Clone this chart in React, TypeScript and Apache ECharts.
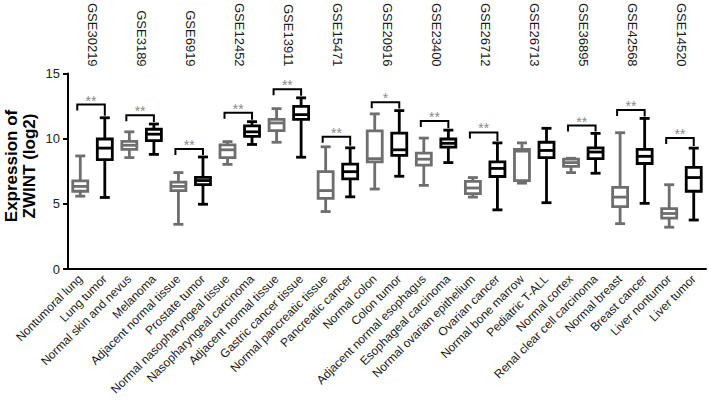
import React, { useEffect, useRef } from "react";
import * as echarts from "echarts";

const categories = [
  "Nontumoral lung", "Lung tumor",
  "Normal skin and nevus", "Melanoma",
  "Adjacent normal tissue", "Prostate tumor",
  "Normal nasopharyngeal tissue", "Nasopharyngeal carcinoma",
  "Adjacent normal tissue", "Gastric cancer tissue",
  "Normal pancreatic tissue", "Pancreatic cancer",
  "Normal colon", "Colon tumor",
  "Adjacent normal esophagus", "Esophageal carcinoma",
  "Normal ovarian epithelium", "Ovarian cancer",
  "Normal bone marrow", "Pediatric T-ALL",
  "Normal cortex", "Renal clear cell carcinoma",
  "Normal breast", "Breast cancer",
  "Liver nontumor", "Liver tumor",
];

const datasets = [
  "GSE30219", "GSE3189", "GSE6919", "GSE12452", "GSE13911", "GSE15471", "GSE20916",
  "GSE23400", "GSE26712", "GSE26713", "GSE36895", "GSE42568", "GSE14520",
];

// [min, Q1, median, Q3, max] per category
const boxValues: number[][] = [
  [5.59, 5.97, 6.34, 6.77, 8.68],
  [5.49, 8.4, 9.28, 9.98, 11.61],
  [8.55, 9.18, 9.5, 9.8, 10.53],
  [8.8, 9.85, 10.35, 10.73, 11.13],
  [3.43, 6.02, 6.34, 6.67, 7.4],
  [4.97, 6.47, 6.79, 7.04, 8.6],
  [8.03, 8.55, 9.15, 9.53, 9.78],
  [9.56, 10.18, 10.53, 10.99, 11.31],
  [9.73, 10.63, 11.21, 11.48, 12.31],
  [8.58, 11.48, 11.85, 12.49, 13.14],
  [4.41, 5.42, 6.02, 7.47, 9.38],
  [5.54, 6.92, 7.47, 8.05, 9.3],
  [6.14, 8.22, 8.47, 10.61, 11.91],
  [7.12, 8.73, 9.15, 10.43, 12.16],
  [6.42, 7.98, 8.43, 8.9, 10.05],
  [8.17, 9.35, 9.65, 9.98, 10.66],
  [5.52, 5.79, 6.22, 6.72, 7.02],
  [4.54, 7.1, 7.72, 8.22, 9.68],
  [6.59, 6.79, 9.05, 9.18, 9.68],
  [5.09, 8.55, 9.1, 9.73, 10.8],
  [7.4, 7.88, 8.17, 8.43, 8.5],
  [7.35, 8.47, 8.98, 9.3, 10.41],
  [3.48, 4.79, 5.52, 6.27, 10.46],
  [5.04, 8.1, 8.65, 9.18, 11.56],
  [3.21, 3.91, 4.26, 4.64, 6.47],
  [3.76, 5.97, 7.02, 7.8, 9.28],
];

// significance brackets: pair index, bracket height, label
const bracketPairs = [0, 1, 2, 3, 4, 5, 6, 7, 8, 10, 11, 12];
const bracketHeights = [12.62, 11.81, 9.22, 11.99, 13.79, 10.16, 12.81, 11.36, 10.48, 11.01, 12.21, 10.06];
const bracketLabels = ["**", "**", "**", "**", "**", "**", "*", "**", "**", "**", "**", "**"];

const yTicks = { min: 0, max: 15, interval: 5 };

const GRAY = "#6e6e6e";
const BLACK = "#000000";
const FONT = "'Liberation Sans', Arial, Helvetica, sans-serif";

export default function App() {
  const ref = useRef<HTMLDivElement>(null);

  useEffect(() => {
    if (!ref.current) return;
    const chart = echarts.init(ref.current, undefined, { renderer: "svg" });

    const boxData = boxValues.map((v, i) => [i, ...v]);
    const bracketData = bracketPairs.map((p, k) => [
      p * 2,
      bracketHeights[k],
      p * 2 + 1,
      boxValues[p * 2 + 1][4],
    ]);

    const boxRender = (params: any, api: any) => {
      const idx = api.value(0);
      const c = idx % 2 === 0 ? GRAY : BLACK;
      const pMin = api.coord([idx, api.value(1)]);
      const pQ1 = api.coord([idx, api.value(2)]);
      const pMed = api.coord([idx, api.value(3)]);
      const pQ3 = api.coord([idx, api.value(4)]);
      const pMax = api.coord([idx, api.value(5)]);
      const cx = pMin[0];
      const hb = 7.5;
      const hc = 5;
      const lw = 2.8;
      const st = { stroke: c, lineWidth: lw, fill: "none" };
      return {
        type: "group",
        children: [
          { type: "line", shape: { x1: cx, y1: pMax[1], x2: cx, y2: pMin[1] }, style: st },
          { type: "line", shape: { x1: cx - hc, y1: pMax[1], x2: cx + hc, y2: pMax[1] }, style: st },
          { type: "line", shape: { x1: cx - hc, y1: pMin[1], x2: cx + hc, y2: pMin[1] }, style: st },
          {
            type: "rect",
            shape: { x: cx - hb, y: pQ3[1], width: hb * 2, height: pQ1[1] - pQ3[1] },
            style: { stroke: c, lineWidth: lw, fill: "#ffffff" },
          },
          { type: "line", shape: { x1: cx - hb, y1: pMed[1], x2: cx + hb, y2: pMed[1] }, style: st },
        ],
      };
    };

    const bracketRender = (params: any, api: any) => {
      const k = params.dataIndex;
      const p1 = api.coord([api.value(0), api.value(1)]);
      const p2 = api.coord([api.value(2), api.value(1)]);
      const pt = api.coord([api.value(2), api.value(3)]);
      const lx = p1[0] - 3;
      const rx = p2[0];
      const y = p1[1];
      return {
        type: "group",
        children: [
          {
            type: "polyline",
            shape: { points: [[lx, y + 6], [lx, y], [rx, y], [rx, pt[1] - 2]] },
            style: { stroke: BLACK, lineWidth: 2, fill: "none" },
          },
          {
            type: "text",
            x: (lx + rx) / 2,
            y: y - 4,
            style: {
              text: bracketLabels[k],
              fill: "#8a8a8a",
              font: `14px ${FONT}`,
              align: "center",
              verticalAlign: "middle",
            },
          },
        ],
      };
    };

    chart.setOption({
      animation: false,
      backgroundColor: "#ffffff",
      textStyle: { fontFamily: FONT },
      grid: { left: 68, right: 3, top: 70, bottom: 142, containLabel: false },
      xAxis: [
        {
          type: "category",
          data: categories,
          boundaryGap: true,
          axisLine: { lineStyle: { color: BLACK, width: 2 } },
          axisTick: { alignWithLabel: true, length: 5, lineStyle: { color: BLACK, width: 2 } },
          axisLabel: {
            interval: 0,
            rotate: 45,
            margin: 8,
            fontSize: 12,
            color: "#1a1a1a",
            fontFamily: FONT,
          },
          splitLine: { show: false },
        },
        {
          type: "category",
          data: datasets,
          position: "top",
          boundaryGap: true,
          axisLine: { show: false },
          axisTick: { show: false },
          axisLabel: {
            interval: 0,
            rotate: 90,
            margin: 7,
            fontSize: 13,
            color: "#1a1a1a",
            fontFamily: FONT,
          },
          splitLine: { show: false },
        },
      ],
      yAxis: {
        type: "value",
        min: yTicks.min,
        max: yTicks.max,
        interval: yTicks.interval,
        axisLine: { show: true, lineStyle: { color: BLACK, width: 2 } },
        axisTick: { show: true, length: 5, lineStyle: { color: BLACK, width: 2 } },
        axisLabel: { margin: 8, fontSize: 13, color: "#222", fontFamily: FONT },
        splitLine: { show: false },
      },
      graphic: [
        {
          type: "text",
          x: 20,
          y: 166,
          rotation: Math.PI / 2,
          style: {
            text: "Expression of\nZWINT (log2)",
            font: `bold 17px ${FONT}`,
            lineHeight: 18,
            fill: "#000",
            align: "center",
            verticalAlign: "middle",
          },
        },
      ],
      series: [
        {
          type: "custom",
          xAxisIndex: 0,
          renderItem: boxRender,
          data: boxData,
          encode: { x: 0, y: [1, 2, 3, 4, 5] },
          clip: false,
        },
        {
          type: "custom",
          xAxisIndex: 0,
          renderItem: bracketRender,
          data: bracketData,
          encode: { x: 0, y: [1, 3] },
          clip: false,
        },
      ],
    });

    return () => chart.dispose();
  }, []);

  return (
    <div
      ref={ref}
      style={{ position: "fixed", left: 0, top: 0, width: 709, height: 411, background: "#fff" }}
    />
  );
}
